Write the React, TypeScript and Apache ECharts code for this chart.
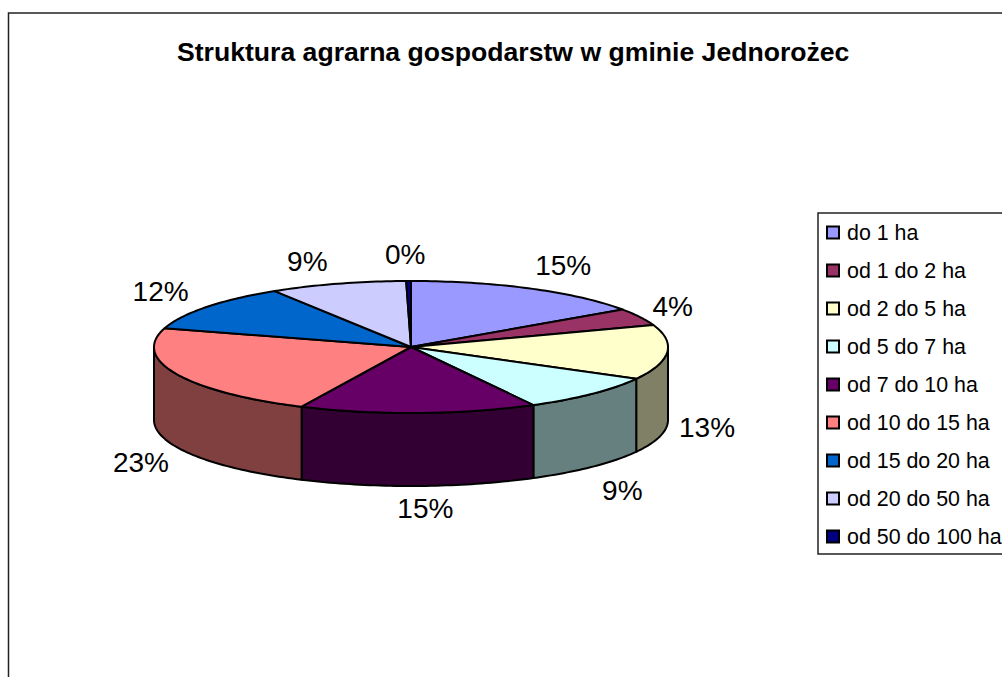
import React, { useEffect, useRef } from "react";
import * as echarts from "echarts";

const titleText = "Struktura agrarna gospodarstw w gminie Jednorożec";
const categories = ["do 1 ha", "od 1 do 2 ha", "od 2 do 5 ha", "od 5 do 7 ha", "od 7 do 10 ha", "od 10 do 15 ha", "od 15 do 20 ha", "od 20 do 50 ha", "od 50 do 100 ha"];
const shares = [15.4, 4.2, 13.4, 9.1, 14.9, 22.6, 11.5, 8.6, 0.3];
const percentLabels = ["15%", "4%", "13%", "9%", "15%", "23%", "12%", "9%", "0%"];
const topColors = ["#9999FF", "#993366", "#FFFFCC", "#CCFFFF", "#660066", "#FF8080", "#0066CC", "#CCCCFF", "#000080"];
const wallColors = ["#4C4C80", "#4C1933", "#808066", "#668080", "#330033", "#804040", "#003366", "#666680", "#000040"];
const labelNudgeX = [14, -3, 0, 2, 6, 1, -14, -19, -3];
const labelNudgeY = [-2, 0, 0, 7, -1, 6, -1, 1, -3];

const CX = 411, CY = 347, RX = 257, RY = 66, DEPTH = 73;
const LABEL_RX = 297, LABEL_RY = 90;
const total = shares.reduce((a, b) => a + b, 0);
const starts = shares.map((_, i) => shares.slice(0, i).reduce((a, b) => a + b, 0));
const toAngle = (v: number) => (v / total) * Math.PI * 2;
const rim = (a: number, dy = 0): [number, number] => [CX + RX * Math.sin(a), CY - RY * Math.cos(a) + dy];

function arcPoints(a0: number, a1: number, dy = 0) {
  const n = Math.max(2, Math.ceil((a1 - a0) / 0.02));
  const pts: [number, number][] = [];
  for (let i = 0; i <= n; i++) pts.push(rim(a0 + ((a1 - a0) * i) / n, dy));
  return pts;
}

const renderSlice = (i: number) => (_params: any, api: any) => {
  const value = api.value(0);
  const a0 = toAngle(starts[i]);
  const a1 = a0 + toAngle(value);
  const children: any[] = [];
  const w0 = Math.max(a0, Math.PI / 2);
  const w1 = Math.min(a1, (Math.PI * 3) / 2);
  if (w1 > w0) {
    const top = arcPoints(w0, w1);
    const bottom = arcPoints(w0, w1, DEPTH).reverse();
    children.push({
      type: "polygon",
      shape: { points: [...top, ...bottom] },
      style: { fill: wallColors[i], stroke: "#000", lineWidth: 2, lineJoin: "round" },
    });
  }
  children.push({
    type: "polygon",
    shape: { points: [[CX, CY], ...arcPoints(a0, a1)] },
    style: { fill: topColors[i], stroke: "#000", lineWidth: 2, lineJoin: "round" },
  });
  const mid = (a0 + a1) / 2;
  const front = Math.cos(mid) < 0 ? DEPTH : 0;
  children.push({
    type: "text",
    style: {
      text: percentLabels[i],
      x: CX + LABEL_RX * Math.sin(mid) + labelNudgeX[i],
      y: CY - LABEL_RY * Math.cos(mid) + front + labelNudgeY[i],
      fill: "#000",
      font: "28px 'Liberation Sans', Arial, sans-serif",
      align: "center",
      verticalAlign: "middle",
    },
  });
  return { type: "group", children };
};

export default function App() {
  const ref = useRef<HTMLDivElement>(null);
  useEffect(() => {
    document.body.style.margin = "0";
    const chart = echarts.init(ref.current!, undefined, { renderer: "svg" });
    chart.setOption({
      animation: false,
      backgroundColor: "#fff",
      title: {
        text: titleText,
        left: 177,
        top: 38,
        padding: 0,
        textStyle: { fontFamily: "'Liberation Sans', Arial, sans-serif", fontSize: 26.6, fontWeight: "bold", color: "#000" },
      },
      legend: {
        orient: "vertical",
        left: 818,
        top: 213,
        padding: [9, 12, 7, 8],
        backgroundColor: "#fff",
        borderColor: "#222",
        borderWidth: 1.5,
        borderRadius: 0,
        itemWidth: 12,
        itemHeight: 12,
        itemGap: 17,
        selectedMode: false,
        icon: "rect",
        textStyle: { fontFamily: "'Liberation Sans', Arial, sans-serif", fontSize: 21.4, color: "#000", padding: [0, 0, 0, 3] },
        itemStyle: { borderColor: "#000", borderWidth: 2 },
        data: categories,
      },
      graphic: [
        {
          type: "rect",
          silent: true,
          z: -10,
          shape: { x: 8.5, y: 13, width: 1100, height: 800 },
          style: { fill: "#fff", stroke: "#222", lineWidth: 1.5 },
        },
      ],
      series: categories.map((name, i) => ({
        type: "custom",
        name,
        coordinateSystem: "none",
        silent: true,
        itemStyle: { color: topColors[i] },
        data: [[shares[i]]],
        renderItem: renderSlice(i),
      })),
    });
    return () => chart.dispose();
  }, []);
  return <div ref={ref} style={{ width: 1002, height: 677 }} />;
}
